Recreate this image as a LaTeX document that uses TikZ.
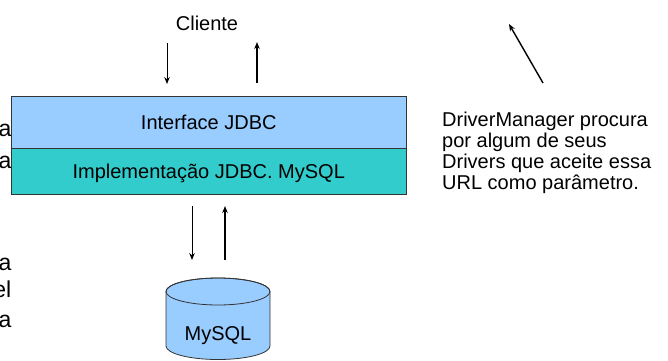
\documentclass[tikz,border=0pt]{standalone}
\usepackage{fontspec}
\setmainfont{Liberation Sans}
\usetikzlibrary{positioning,arrows.meta}
\definecolor{jdbcazul}{HTML}{99CCFF}
\definecolor{jdbcverde}{HTML}{33CCCC}
\begin{document}
\begin{tikzpicture}[x=1pt,y=1pt,
  camada/.style={draw=black!80,line width=0.8pt,outer sep=0pt,inner sep=0pt,minimum width=394.5pt,text height=14.3pt,text depth=0pt,font=\fontsize{20}{24}\selectfont},
  texto/.style={inner sep=0pt,font=\fontsize{20}{21}\selectfont},
  resto/.style={anchor=base east,inner sep=0pt,font=\fontsize{23}{28}\selectfont},
  seta/.style={-{Stealth[length=7pt,width=5.5pt]}}]
  \useasboundingbox (0,0) rectangle (668,360);
  \node[resto] (r1) at (11.5,224) {a};
  \node[resto] (r2) at (11.5,192) {a};
  \node[resto] (r3) at (11.5,90) {a};
  \node[resto] (r4) at (11.5,63) {el};
  \node[resto] (r5) at (11.5,33) {a};
  \node[camada,fill=jdbcazul,minimum height=52pt] (interface) at (208.75,238) {Interface JDBC};
  \node[camada,fill=jdbcverde,minimum height=46pt,below=0pt of interface] (impl) {Implementação JDBC. MySQL};
  \node[texto,anchor=base] (cliente) at (207,330) {Cliente};
  \coordinate (c1) at (167,317);
  \coordinate (c2) at (167,276);
  \coordinate (c3) at (257,277);
  \coordinate (c4) at (257,318);
  \draw[line width=0.8pt,black,seta] (c1) -- (c2);
  \draw[line width=1.3pt,black,seta] (c3) -- (c4);
  \coordinate (b1) at (192,154);
  \coordinate (b2) at (192,100);
  \coordinate (b3) at (225,100);
  \coordinate (b4) at (225,154);
  \draw[line width=0.8pt,black,seta] (b1) -- (b2);
  \draw[line width=1.3pt,black,seta] (b3) -- (b4);
  \filldraw[fill=jdbcazul,draw=black!80,line width=0.8pt] (166,68.5) -- (166,14) arc[start angle=180,end angle=360,x radius=52,y radius=13.5] -- (270,68.5) arc[start angle=0,end angle=180,x radius=52,y radius=13.5] -- cycle;
  \draw[draw=black!80,line width=0.8pt] (218,68.5) ellipse[x radius=52,y radius=13.5];
  \node[texto,anchor=base] (db) at (218,20) {MySQL};
  \node[texto,anchor=north west,align=left] (nota) at (442,248) {DriverManager procura\\por algum de seus\\Drivers que aceite essa\\URL como parâmetro.};
  \coordinate (s1) at (543,277);
  \coordinate (s2) at (509,336);
  \draw[line width=1.4pt,black,seta] (s1) -- (s2);
\end{tikzpicture}
\end{document}
